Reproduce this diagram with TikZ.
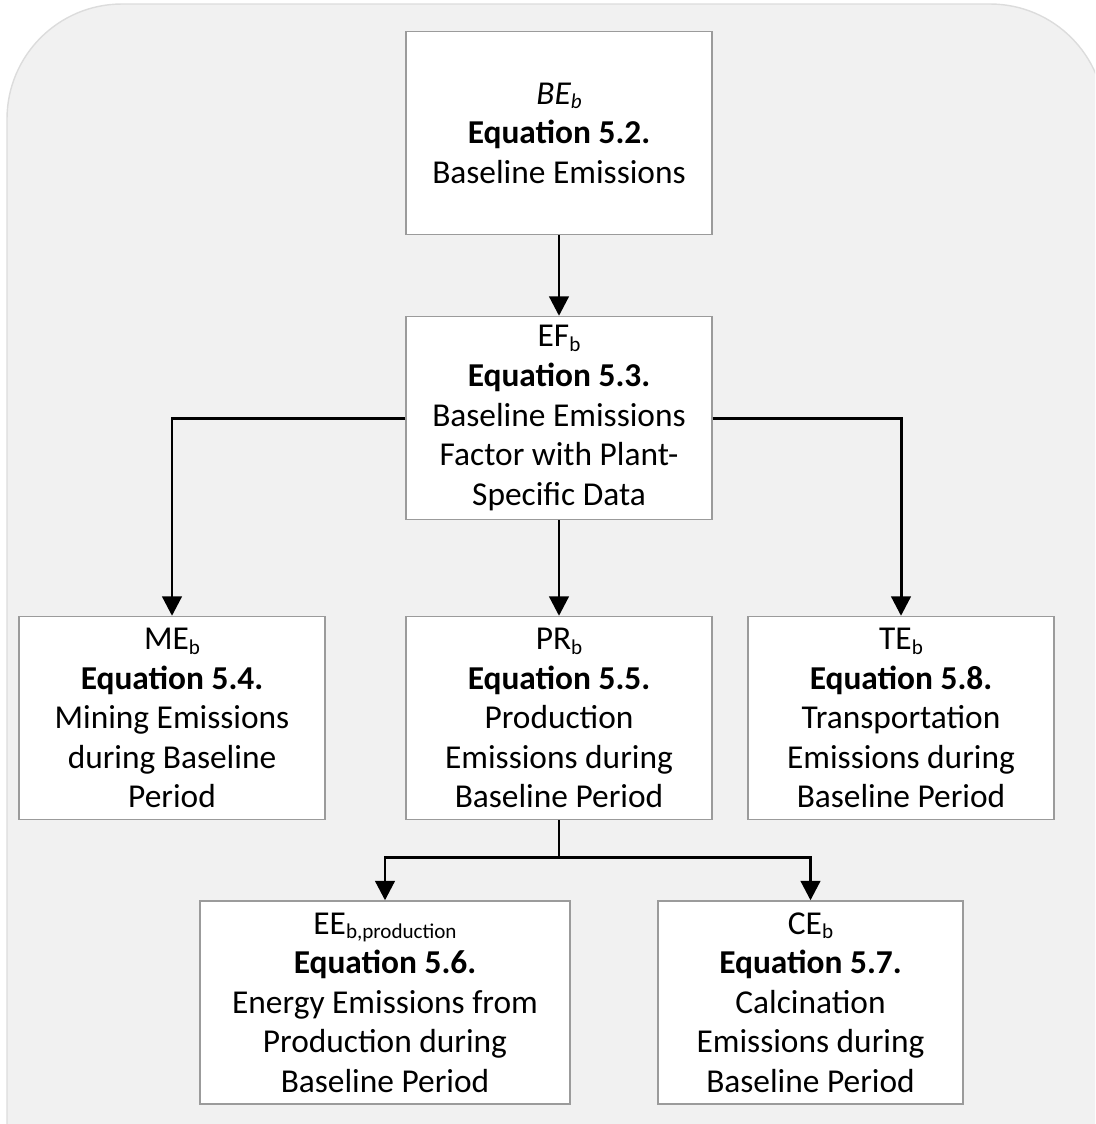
\documentclass[tikz,border=0pt]{standalone}
\usepackage{fontspec}
\setmainfont{Carlito}
\usetikzlibrary{arrows.meta}

\definecolor{panelgrey}{RGB}{241,241,241}
\definecolor{panelline}{RGB}{220,220,220}
\definecolor{boxline}{RGB}{155,155,155}

\newcommand{\lowidx}[1]{\raisebox{-0.3ex}{\fontsize{12}{12}\selectfont #1}}

\begin{document}
\begin{tikzpicture}[
    eqbox/.style={rectangle, draw=boxline, line width=0.8pt, fill=white,
        minimum width=6.12cm, minimum height=4.06cm, inner sep=0pt,
        align=center, font=\fontsize{19}{22.5}\selectfont},
    link/.style={-{Triangle[length=11pt,width=11pt]}, line width=1.7pt, draw=black}
]

% ======================
% Panel
% ======================
\useasboundingbox (0,0) rectangle (21.9,-22.48);
\clip (0,0) rectangle (21.9,-22.48);
\fill[panelgrey, draw=panelline, line width=0.8pt, rounded corners=2.3cm]
    (0.14,-0.08) rectangle (22.1,-25.5);

% ======================
% Top level
% ======================
\node[eqbox] (BE) at (11.18,-2.66)
    {\textit{BE\lowidx{b}}\\ \textbf{Equation 5.2.}\\ Baseline Emissions};
\node[eqbox] (EF) at (11.18,-8.36)
    {EF\lowidx{b}\\ \textbf{Equation 5.3.}\\ Baseline Emissions\\ Factor with Plant-\\ Specific Data};

% ======================
% Middle level
% ======================
\node[eqbox] (ME) at (3.44,-14.36)
    {ME\lowidx{b}\\ \textbf{Equation 5.4.}\\ Mining Emissions\\ during Baseline\\ Period};
\node[eqbox] (PR) at (11.18,-14.36)
    {PR\lowidx{b}\\ \textbf{Equation 5.5.}\\ Production\\ Emissions during\\ Baseline Period};
\node[eqbox] (TE) at (18.02,-14.36)
    {TE\lowidx{b}\\ \textbf{Equation 5.8.}\\ Transportation\\ Emissions during\\ Baseline Period};

% ======================
% Bottom level
% ======================
\node[eqbox, minimum width=7.4cm] (EE) at (7.70,-20.05)
    {EE\lowidx{b,production}\\ \textbf{Equation 5.6.}\\ Energy Emissions from\\ Production during\\ Baseline Period};
\node[eqbox, minimum width=6.1cm] (CE) at (16.21,-20.05)
    {CE\lowidx{b}\\ \textbf{Equation 5.7.}\\ Calcination\\ Emissions during\\ Baseline Period};

% ======================
% Connections
% ======================
\draw[link] (BE.south) -- (EF.north);
\draw[link] (EF.south) -- (PR.north);
\draw[link] (EF.west) -| (ME.north);
\draw[link] (EF.east) -| (TE.north);

\coordinate (split) at (11.18,-17.14);
\draw[line width=1.7pt] (PR.south) -- (split);
\draw[link] (split) -| (EE.north);
\draw[link] (split) -| (CE.north);

\end{tikzpicture}
\end{document}
